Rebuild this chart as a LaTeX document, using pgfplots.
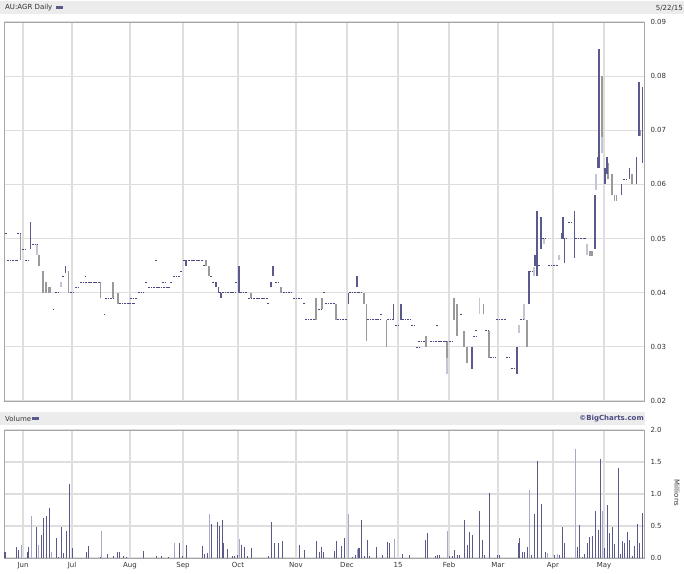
\documentclass[border=0pt]{standalone}
\usepackage{pgfplots}
\usepackage{pgfplotstable}
\pgfplotsset{compat=1.18}
\usepackage{fontspec}
\setmainfont{DejaVu Sans}

\definecolor{gridc}{HTML}{DEDEDE}
\definecolor{bandc}{HTML}{ECECEC}
\definecolor{upc}{HTML}{5A5A8C}
\definecolor{downc}{HTML}{9A9A9A}
\definecolor{lightc}{HTML}{C4C4D4}
\definecolor{dashc}{HTML}{4A4A82}
\definecolor{voldark}{HTML}{5A5A8A}
\definecolor{vollight}{HTML}{A8A8C8}
\definecolor{txtc}{HTML}{333333}

% price bars: x, low, high (x is the horizontal position across the year)
\pgfplotstableread{
x lo hi
20.5 0.046 0.051
39 0.045 0.047
43 0.040 0.044
46 0.040 0.042
49 0.040 0.041
50.5 0.040 0.041
68.5 0.040 0.044
100.5 0.039 0.042
113 0.039 0.042
118 0.038 0.040
206 0.045 0.046
209 0.043 0.045
251 0.039 0.040
281 0.040 0.041
316 0.035 0.039
322 0.037 0.039
336 0.035 0.038
364 0.038 0.040
366.5 0.031 0.038
386.5 0.030 0.035
426 0.030 0.032
447 0.028 0.031
454 0.035 0.039
457 0.032 0.038
464 0.030 0.033
467 0.027 0.030
483.5 0.036 0.038
489 0.028 0.033
527 0.030 0.035
590 0.0468 0.0477
592 0.0468 0.0477
602 0.0688 0.080
608 0.061 0.064
612 0.058 0.062
614.5 0.057 0.058
616.5 0.057 0.058
632 0.060 0.062
640.5 0.069 0.070
}\downbars

\pgfplotstableread{
x lo hi
37 0.047 0.049
61 0.041 0.042
447 0.025 0.028
479.5 0.036 0.039
519 0.0325 0.034
524 0.035 0.038
534 0.043 0.0448
544 0.049 0.050
559 0.046 0.047
587 0.047 0.049
596 0.059 0.062
602 0.0658 0.0688
}\lightbars

\pgfplotstableread{
x lo hi
30.5 0.048 0.053
65.5 0.0437 0.045
186 0.045 0.046
216 0.041 0.042
218.5 0.040 0.041
221 0.039 0.040
239 0.040 0.045
271 0.041 0.042
273 0.043 0.045
348.5 0.038 0.040
357 0.041 0.043
393.5 0.035 0.038
401 0.035 0.038
472 0.026 0.030
517 0.025 0.030
529 0.038 0.044
535 0.045 0.047
537 0.043 0.055
541 0.048 0.054
562 0.050 0.051
563 0.050 0.054
564.5 0.0455 0.050
574.5 0.0465 0.055
595 0.048 0.058
598 0.063 0.065
599 0.063 0.085
605 0.060 0.063
607 0.062 0.065
621.5 0.058 0.060
629.5 0.061 0.063
636.5 0.060 0.065
639 0.069 0.079
642.5 0.064 0.078
}\upbars

% flat days: x from, x to, price
\pgfplotstableread{
xa xb y
5 7 0.051
17 21 0.051
7 18 0.046
22 25 0.048
25 29 0.046
32 38 0.049
53 54 0.037
55 59 0.040
62 64 0.043
70 74 0.040
75 79 0.041
80 100 0.042
85 86 0.043
105 113 0.039
104 105 0.036
119 135 0.038
130 137 0.039
138 144 0.040
145 147 0.042
148 158 0.041
155 157 0.046
158 170 0.041
162 165 0.042
170 172 0.042
173 180 0.043
180 182 0.044
183 203 0.046
203 205 0.045
210 212 0.043
212 215 0.042
219 222 0.040
222 235 0.040
235 237 0.042
240 247 0.040
248 268 0.039
267 269 0.038
275 280 0.042
283 292 0.040
293 302 0.039
303 305 0.038
305 315 0.035
318 321 0.037
323 325 0.040
325 335 0.038
337 347 0.035
349 357 0.040
358 363 0.040
367 380 0.035
380 382 0.036
387 393 0.035
395 400 0.034
402 410 0.035
411 415 0.034
416 420 0.030
418 425 0.031
430 447 0.031
436 438 0.034
449 452 0.031
460 462 0.036
473 477 0.032
475 477 0.033
485 488 0.033
490 496 0.028
496 506 0.035
506 510 0.028
511 516 0.026
520 524 0.035
529 533 0.044
538 540 0.045
542 547 0.050
548 558 0.045
563 568 0.050
568 573 0.053
575 586 0.050
623 628 0.061
}\flatdays

% volume in millions
\pgfplotstableread{
x v
5 0.09
16 0.17
18 0.12
27 0.10
28 0.17
36 0.49
41 0.36
43 0.63
46 0.65
49 0.78
56 0.32
58 0.02
61 0.48
63 0.08
66 0.42
69 1.16
72 0.15
86 0.09
88 0.18
100 0.02
107 0.07
113 0.03
117 0.09
119 0.09
123 0.03
126 0.02
143 0.11
156 0.03
161 0.03
168 0.02
179 0.24
182 0.03
186 0.21
202 0.19
204 0.07
207 0.08
211 0.53
217 0.57
219 0.50
222 0.60
223 0.24
227 0.14
232 0.03
234 0.03
237 0.04
241 0.21
244 0.17
247 0.03
251 0.16
268 0.03
271 0.56
274 0.24
278 0.24
282 0.27
299 0.21
304 0.13
316 0.26
319 0.09
321 0.17
323 0.09
334 0.11
336 0.27
341 0.18
344 0.32
352 0.02
355 0.05
358 0.15
359 0.16
361 0.59
364 0.03
367 0.28
369 0.03
376 0.17
382 0.05
387 0.25
389 0.23
402 0.07
409 0.05
425 0.28
427 0.39
435 0.03
437 0.04
439 0.04
449 0.03
452 0.03
454 0.12
457 0.04
459 0.04
464 0.59
467 0.20
469 0.40
472 0.36
479 0.73
482 0.28
484 0.04
489 1.01
497 0.04
499 0.04
518 0.24
519 0.31
522 0.09
524 0.09
527 0.17
531 0.04
534 0.69
537 1.52
541 0.85
545 0.09
554 0.05
559 0.05
562 0.48
564 0.24
577 0.17
579 0.51
582 0.02
584 0.06
587 0.23
589 0.33
592 0.35
595 0.73
598 0.43
600 1.55
604 0.16
607 0.83
609 0.39
612 0.48
614 0.22
618 1.41
620 0.06
622 0.27
624 0.24
627 0.40
629 0.28
632 0.03
634 0.18
637 0.53
639 0.23
642 0.70
}\voldark

\pgfplotstableread{
x v
21 0.20
31 0.65
38 0.21
51 0.09
101 0.42
174 0.24
209 0.68
239 0.30
348 0.68
357 0.14
394 0.30
447 0.42
529 1.06
547 0.08
557 0.06
575 1.71
602 0.73
}\vollight

\pgfplotsset{
  chartbase/.style={
    scale only axis, anchor=south west, width=640pt,
    xmin=4, xmax=644,
    xtick={23,72,130,183,238,296,347,398,449,498,553,604},
    major tick length=0, grid=major,
    grid style={draw=gridc, line width=1.2pt},
    axis line style={draw=black!35, line width=0.8pt},
    yticklabel pos=right, scaled y ticks=false,
    tick label style={font=\fontsize{7}{8}\selectfont, text=txtc},
    /pgf/number format/assume math mode=true,
    /pgf/number format/.cd, fixed, fixed zerofill,
  },
  vbar/.style 2 args={draw=none, mark=none, forget plot,
    error bars/.cd, y dir=plus, y explicit, error mark=none,
    error bar style={draw=#1, line width=#2}},
  hbar/.style={draw=none, mark=none, forget plot,
    error bars/.cd, x dir=plus, x explicit, error mark=none,
    error bar style={draw=#1, line width=0.7pt, dash pattern=on 1.9pt off 0.65pt}},
}

\begin{document}
\begin{tikzpicture}[x=1pt,y=1pt]
\fill[white] (0,0) rectangle (684,573);
\useasboundingbox (0,0) rectangle (684,573);
% header bands
\fill[bandc] (0,559) rectangle (684,571.5);
\node[anchor=west, font=\fontsize{7}{8}\selectfont, text=txtc, inner sep=0] at (5,565) {AU:AGR Daily};
\fill[upc] (56,564) rectangle (63,566.5);
\node[anchor=east, font=\fontsize{7}{8}\selectfont, text=txtc, inner sep=0] at (683,565) {5/22/15};
\fill[bandc] (0,148) rectangle (645,161);
\node[anchor=west, font=\fontsize{7}{8}\selectfont, text=txtc, inner sep=0] at (5,154.5) {Volume};
\fill[upc] (32,153.5) rectangle (39,156);
\node[anchor=east, font=\bfseries\fontsize{7}{8}\selectfont, text=dashc, inner sep=0] at (644,154.5) {©BigCharts.com};
\node[rotate=-90, font=\fontsize{7}{8}\selectfont, text=txtc, inner sep=0] at (677,80) {Millions};

% price panel
\begin{axis}[chartbase, at={(4pt,172pt)}, height=379pt,
  ymin=0.02, ymax=0.09, xticklabels={},
  ytick={0.02,0.03,0.04,0.05,0.06,0.07,0.08,0.09},
  yticklabel style={/pgf/number format/precision=2, xshift=3pt},
  clip=true]
\addplot[vbar={lightc}{1.8pt}] table[x=x, y=lo, y error plus expr=\thisrow{hi}-\thisrow{lo}] {\lightbars};
\addplot[vbar={downc}{1.8pt}] table[x=x, y=lo, y error plus expr=\thisrow{hi}-\thisrow{lo}] {\downbars};
\addplot[vbar={upc}{1.4pt}] table[x=x, y=lo, y error plus expr=\thisrow{hi}-\thisrow{lo}] {\upbars};
\addplot[hbar=dashc] table[x=xa, y=y, x error plus expr=\thisrow{xb}-\thisrow{xa}] {\flatdays};
\end{axis}

% volume panel
\begin{axis}[chartbase, at={(4pt,15pt)}, height=128pt,
  ymin=0, ymax=2,
  xticklabels={Jun,Jul,Aug,Sep,Oct,Nov,Dec,15,Feb,Mar,Apr,May},
  ytick={0,0.5,1,1.5,2},
  yticklabel style={/pgf/number format/precision=1, xshift=3pt},
  xticklabel style={yshift=-1pt}]
\addplot[ycomb, draw=vollight, line width=1pt, mark=none] table[x=x, y=v] {\vollight};
\addplot[ycomb, draw=voldark, line width=1pt, mark=none] table[x=x, y=v] {\voldark};
\end{axis}
\end{tikzpicture}
\end{document}
